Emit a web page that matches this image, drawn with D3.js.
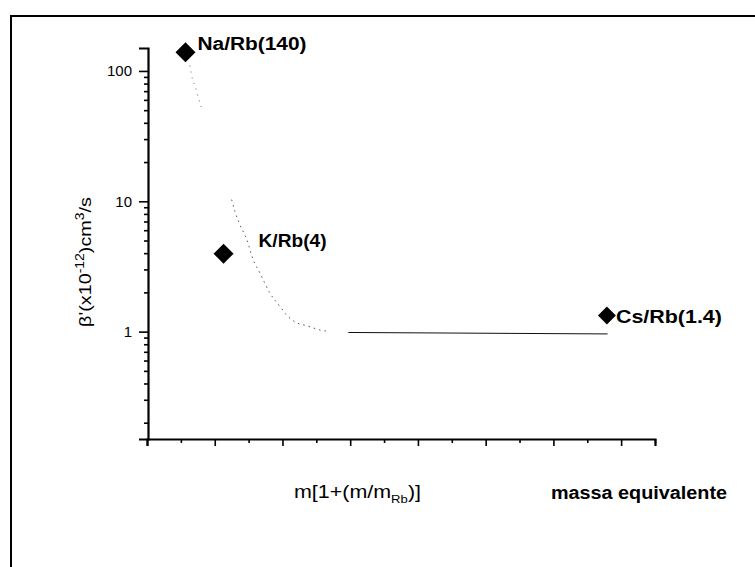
<!DOCTYPE html>
<html>
<head>
<meta charset="utf-8">
<script src="https://cdn.jsdelivr.net/npm/d3@7"></script>
<style>
  html, body { margin: 0; padding: 0; background: #fff; }
  svg { display: block; }
  text { font-family: "Liberation Sans", Arial, sans-serif; fill: #000; }
</style>
</head>
<body>
<svg id="chart" width="755" height="567"></svg>
<script>
// ---- data ----
const pointNames = ["Na/Rb(140)", "K/Rb(4)", "Cs/Rb(1.4)"];
const pointX = [28.4, 56.5, 339.5];      // m[1+(m/mRb)]
const pointY = [139, 3.96, 1.33];        // beta'
const fitUpperX = [31.7, 33.4, 35.9, 37.9, 40.4];
const fitUpperY = [110, 88, 74.5, 62.4, 51.6];
const fitLowerX = [62.5, 64.9, 68.6, 73.6, 78.4, 83.4, 90.8, 98.2, 103.1, 110.5, 117.9, 127.7, 135];
const fitLowerY = [10.3, 8.4, 6.6, 5.1, 3.56, 2.81, 1.97, 1.56, 1.34, 1.17, 1.11, 1.03, 1.0];
const plateauX = [148.6, 340];
const plateauY = [0.985, 0.96];
const xMajorTicks = [0, 50, 100, 150, 200, 250, 300, 350];
const xMinorTicks = [25, 75, 125, 175, 225, 275, 325, 375];
const yMajorTicks = [1, 10, 100];
const yTickLabels = ["1", "10", "100"];
const yMinorTicks = [0.2, 0.3, 0.4, 0.5, 0.6, 0.7, 0.8, 0.9, 2, 3, 4, 5, 6, 7, 8, 9, 20, 30, 40, 50, 60, 70, 80, 90];

// ---- layout ----
const svg = d3.select("#chart");
const x = d3.scaleLinear().domain([0, 375]).range([147, 655]);
const y = d3.scaleLog().domain([0.15, 150]).range([439, 48]);

// outer frame (open at right/bottom, clipped by picture)
svg.append("path")
  .attr("d", "M11,567 L11,16 L755,16")
  .attr("fill", "none").attr("stroke", "#000").attr("stroke-width", 2);

// axes
const yMajor = svg.append("g").attr("transform", "translate(148,0)")
  .call(d3.axisLeft(y).tickValues(yMajorTicks).tickSize(9).tickPadding(7)
    .tickFormat((d, i) => yTickLabels[i]));
yMajor.selectAll("text")
  .attr("font-size", 15)
  .style("font-size", "15px")
  .style("font-family", "'Liberation Sans', Arial, sans-serif");
const yMinor = svg.append("g").attr("transform", "translate(148,0)")
  .call(d3.axisLeft(y).tickValues(yMinorTicks).tickSize(4).tickFormat(""));
yMinor.select(".domain").remove();

const xMajor = svg.append("g").attr("transform", "translate(0,439)")
  .call(d3.axisBottom(x).tickValues(xMajorTicks).tickSize(7).tickFormat(""));
const xMinor = svg.append("g").attr("transform", "translate(0,439)")
  .call(d3.axisBottom(x).tickValues(xMinorTicks).tickSize(4).tickFormat(""));
xMinor.select(".domain").remove();

svg.selectAll(".domain").attr("stroke-width", 2.2).attr("stroke", "#000");
svg.selectAll(".tick line").attr("stroke-width", 1.6).attr("stroke", "#000");

// fitted curve
const line = d3.line().x(d => x(d[0])).y(d => y(d[1])).curve(d3.curveMonotoneX);
const upper = fitUpperX.map((v, i) => [v, fitUpperY[i]]);
const lower = fitLowerX.map((v, i) => [v, fitLowerY[i]]);
const plateau = plateauX.map((v, i) => [v, plateauY[i]]);
svg.append("path").attr("d", line(upper)).attr("fill", "none")
  .attr("stroke", "#666").attr("stroke-width", 1).attr("stroke-dasharray", "1,5");
svg.append("path").attr("d", line(lower)).attr("fill", "none")
  .attr("stroke", "#555").attr("stroke-width", 1).attr("stroke-dasharray", "1.5,4");
svg.append("path").attr("d", line(plateau)).attr("fill", "none")
  .attr("stroke", "#111").attr("stroke-width", 1);

// markers
const diamondSizes = [200, 200, 160];
pointX.forEach((v, i) => {
  svg.append("path")
    .attr("d", d3.symbol().type(d3.symbolSquare).size(diamondSizes[i])())
    .attr("transform", `translate(${x(v)},${y(pointY[i])}) rotate(45)`)
    .attr("fill", "#000");
});

// point labels
const labelDx = [12, 35, 9];
const labelDy = [-2, -7, 8];
const labelLen = [109, 68, 106];
pointNames.forEach((t, i) => {
  svg.append("text")
    .attr("x", x(pointX[i]) + labelDx[i])
    .attr("y", y(pointY[i]) + labelDy[i])
    .attr("textLength", labelLen[i]).attr("lengthAdjust", "spacingAndGlyphs")
    .style("font-size", "18px").style("font-weight", "bold")
    .text(t);
});

// x-axis titles
const xt = svg.append("text").attr("x", 294).attr("y", 498)
  .attr("textLength", 127).attr("lengthAdjust", "spacingAndGlyphs")
  .style("font-size", "18px");
xt.append("tspan").text("m[1+(m/m");
xt.append("tspan").attr("dy", 5).style("font-size", "11px").text("Rb");
xt.append("tspan").attr("dy", -5).text(")]");

svg.append("text").attr("x", 551).attr("y", 499)
  .attr("textLength", 176).attr("lengthAdjust", "spacingAndGlyphs")
  .style("font-size", "18px").style("font-weight", "bold")
  .text("massa equivalente");

// y-axis title
const yt = svg.append("text")
  .attr("transform", "translate(91,327) rotate(-90)")
  .attr("textLength", 130).attr("lengthAdjust", "spacingAndGlyphs")
  .style("font-size", "17px");
yt.append("tspan").text("β'(x10");
yt.append("tspan").attr("dy", -7).style("font-size", "12px").text("-12");
yt.append("tspan").attr("dy", 7).text(")cm");
yt.append("tspan").attr("dy", -7).style("font-size", "12px").text("3");
yt.append("tspan").attr("dy", 7).text("/s");
</script>
</body>
</html>
